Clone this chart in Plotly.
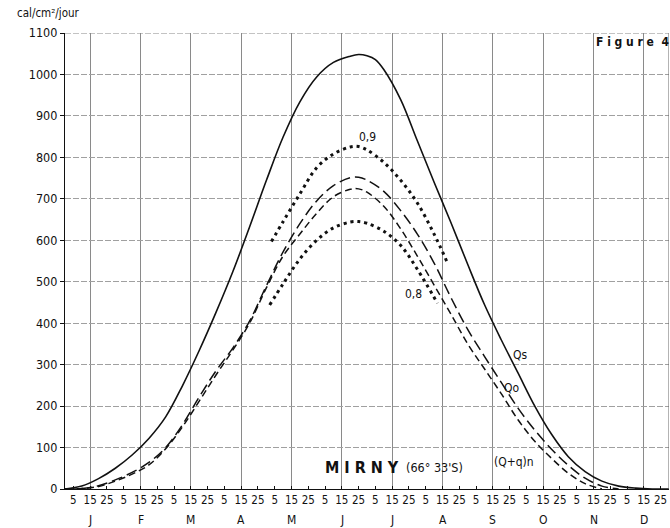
import plotly.graph_objects as go

# x positions are in 10-day periods ("décades"): 0 = 1 Jan, 36 = 31 Dec
months = ["J", "F", "M", "A", "M", "J", "J", "A", "S", "O", "N", "D"]
day_labels = ["5", "15", "25"]

qs_x = [0, 1, 2, 3, 4, 5, 6, 7, 8, 9, 10, 11, 12, 13, 14, 15, 16, 17, 17.5, 18, 18.5,
        19, 20, 21, 22, 23, 24, 25, 26, 27, 28, 29, 30, 31, 32, 33, 34, 35, 36]
qs_y = [0, 7, 25, 50, 82, 122, 174, 249, 334, 426, 524, 632, 744, 849, 934, 994, 1029, 1044, 1048, 1045, 1036,
        1012, 940, 840, 740, 643, 542, 445, 360, 280, 200, 132, 78, 42, 19, 7, 2, 0, 0]

qo_x = [0, 1, 2, 3, 4, 5, 6, 7, 8, 9, 10, 11, 12, 13, 14, 15, 16, 17, 17.5, 18,
        19, 20, 21, 22, 23, 24, 25, 26, 27, 28, 29, 30, 31, 32, 33]
qo_y = [0, 1, 8, 22, 40, 64, 100, 155, 222, 285, 340, 405, 490, 572, 640, 695, 732, 751, 752, 745,
        718, 672, 615, 545, 462, 385, 320, 257, 195, 142, 96, 57, 26, 7, 0]

qn_x = [0, 1, 2, 3, 4, 5, 6, 7, 8, 9, 10, 11, 12, 13, 14, 15, 16, 17, 17.5, 18,
        19, 20, 21, 22, 23, 24, 25, 26, 27, 28, 29, 30, 31, 32]
qn_y = [0, 1, 6, 19, 36, 58, 97, 150, 212, 275, 335, 400, 485, 562, 615, 665, 705, 723, 724, 716,
        682, 628, 562, 492, 422, 350, 290, 230, 167, 115, 74, 38, 13, 0]

k09_x = [12.3, 13, 14, 15, 16, 17, 17.5, 18, 19, 20, 21, 22, 22.8]
k09_y = [597, 645, 712, 775, 808, 825, 826, 818, 788, 745, 690, 615, 545]

k08_x = [12.2, 13, 14, 15, 16, 17, 17.5, 18, 19, 20, 21, 22.2]
k08_y = [444, 495, 555, 600, 630, 644, 645, 641, 622, 588, 530, 448]

y_ticks = list(range(0, 1101, 100))

FONT = "Liberation Sans Narrow, DejaVu Sans Condensed, Roboto Condensed, Arial Narrow, DejaVu Sans, sans-serif"
INK = "#111111"

fig = go.Figure()

def add_curve(x, y, dash, width):
    fig.add_trace(go.Scatter(x=x, y=y, mode="lines",
                             line=dict(color=INK, width=width, dash=dash,
                                       shape="spline", smoothing=1.0),
                             showlegend=False, hoverinfo="skip"))

add_curve(qs_x, qs_y, "solid", 1.6)
add_curve(qo_x, qo_y, "11px,5px", 1.5)
add_curve(qn_x, qn_y, "7px,4px", 1.5)
add_curve(k09_x, k09_y, "3px,4px", 3)
add_curve(k08_x, k08_y, "3px,4px", 3)

tickvals = []
ticktext = []
for m in range(12):
    for j, lab in enumerate(day_labels):
        tickvals.append(m * 3 + j + 0.5)
        ticktext.append(lab)

fig.update_layout(
    width=670, height=528,
    margin=dict(l=65, r=1, t=33, b=39),
    paper_bgcolor="white", plot_bgcolor="white",
    font=dict(family=FONT, color=INK, size=12),
    xaxis=dict(range=[0, 36], tickvals=tickvals, ticktext=ticktext,
               ticks="inside", ticklen=3, tickcolor=INK,
               tickfont=dict(size=11.5, color=INK), showgrid=False, zeroline=False,
               showline=True, linecolor=INK, linewidth=1.2,
               minor=dict(tickvals=[m * 3 + 1.5 for m in range(12)], showgrid=True,
                          gridcolor="#8a8a8a", gridwidth=1, ticks=""),
               mirror=False),
    yaxis=dict(range=[0, 1100], tickvals=y_ticks, ticks="outside", ticklen=4,
               tickcolor=INK, tickfont=dict(size=12.5, color=INK), showgrid=True,
               gridcolor="#a0a0a0", gridwidth=1, griddash="6px,2px",
               zeroline=False, showline=True, linecolor=INK, linewidth=1.2),
)

# frame: right edge and top edge
fig.add_shape(type="line", xref="x", yref="y", x0=36, x1=36, y0=0, y1=1100,
              line=dict(color="#666666", width=1))
fig.add_shape(type="line", xref="x", yref="y", x0=0, x1=36, y0=1100, y1=1100,
              line=dict(color="#888888", width=1, dash="6px,2px"))

# month letters under the 15th
for m, name in enumerate(months):
    fig.add_annotation(x=m * 3 + 1.5, y=-0.068, xref="x", yref="paper", text=name,
                       showarrow=False, font=dict(size=12, color=INK), yanchor="middle")

fig.add_annotation(x=-0.083, y=1.044, xref="paper", yref="paper", text="cal/cm²/jour",
                   showarrow=False, xanchor="left", yanchor="middle",
                   font=dict(size=11.5, color=INK))
fig.add_annotation(x=33.8, y=1078, xref="x", yref="y", text="<b>F i g u r e  4</b>",
                   showarrow=False, font=dict(size=12, color=INK))
fig.add_annotation(x=18.0, y=849, text="0,9", showarrow=False, font=dict(size=12, color=INK))
fig.add_annotation(x=20.75, y=470, text="0,8", showarrow=False, font=dict(size=12, color=INK))
fig.add_annotation(x=27.1, y=323, text="Qs", showarrow=False, font=dict(size=12, color=INK))
fig.add_annotation(x=26.6, y=244, text="Qo", showarrow=False, font=dict(size=12, color=INK))
fig.add_annotation(x=26.75, y=65, text="(Q+q)n", showarrow=False, font=dict(size=12, color=INK))
fig.add_annotation(x=17.7, y=53, text="<b>M I R N Y</b>", showarrow=False,
                   font=dict(size=16, color=INK))
fig.add_annotation(x=22.0, y=52, text="(66° 33'S)", showarrow=False,
                   font=dict(size=12.5, color=INK))

fig.write_html("out.html")
